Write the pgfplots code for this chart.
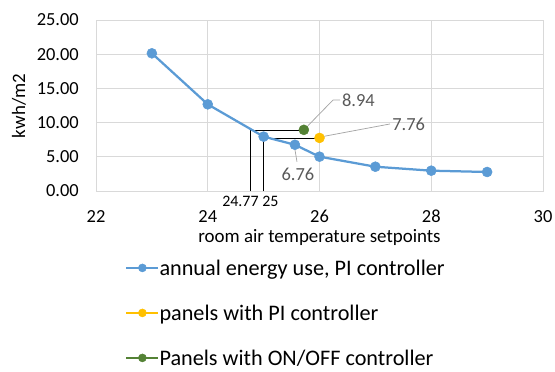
\documentclass[border=0pt]{standalone}
\usepackage{pgfplots}
\pgfplotsset{compat=1.18}
\usepackage{fontspec}
\setmainfont{Carlito}

\definecolor{seriesblue}{HTML}{5B9BD5}
\definecolor{seriesyellow}{HTML}{FFC000}
\definecolor{seriesgreen}{HTML}{548235}
\definecolor{gridgray}{HTML}{D9D9D9}
\definecolor{labelgray}{HTML}{595959}
\definecolor{leadergray}{HTML}{A6A6A6}

\begin{document}
\begin{tikzpicture}
\useasboundingbox (0bp,0bp) rectangle (555bp,372bp);
\begin{axis}[
  at={(96bp,181bp)}, anchor=south west,
  scale only axis, width=447bp, height=171bp,
  xmin=22, xmax=30, ymin=0, ymax=25,
  xtick={22,24,...,30}, ytick={0,5,...,25},
  major tick length=0pt,
  grid=major,
  major grid style={draw=gridgray, line width=0.75bp},
  axis line style={draw=gridgray, line width=0.75bp},
  clip=false,
  /pgf/number format/assume math mode=true,
  yticklabel={\pgfmathprintnumber[fixed,fixed zerofill,precision=2]{\tick}},
  xticklabel={\pgfmathprintnumber[fixed,precision=0]{\tick}},
  yticklabel style={font=\fontsize{18.5}{20}\selectfont, inner sep=0pt, anchor=east, xshift=-17bp},
  xticklabel style={font=\fontsize{18.5}{20}\selectfont, inner sep=0pt, anchor=north, yshift=-19bp},
  xlabel={room air temperature setpoints},
  ylabel={kwh/m2},
  label style={font=\fontsize{19}{21}\selectfont},
  xlabel style={at={(rel axis cs:0.5,0)}, anchor=center, yshift=-47bp, inner sep=0pt},
  ylabel style={at={(rel axis cs:-0.1723,0.497)}, anchor=center, inner sep=0pt},
  legend style={
    at={(rel axis cs:0.065,-0.396)}, anchor=north west,
    draw=none, fill=none, inner sep=0pt,
    font=\fontsize{22.3}{24}\selectfont,
    row sep=27bp,
    nodes={inner xsep=0bp, inner ysep=1.5bp, text height=15bp, text depth=0bp},
  },
  legend cell align=left,
  legend image code/.code={%
    \draw[mark repeat=2,mark phase=2,#1,mark size=4bp] plot coordinates {(0bp,0bp) (16bp,0bp) (32bp,0bp)};},
]

% guide lines from the axis to the two panel results
\addplot[black, line width=0.6bp, forget plot] coordinates {(24.77,0) (24.77,8.94) (25.72,8.94)};
\addplot[black, line width=0.6bp, forget plot] coordinates {(25,0) (25,7.76) (26,7.76)};

% annual energy use against setpoint
\addplot[seriesblue, line width=2.25bp, mark=*, mark size=5bp,
  mark options={solid, fill=seriesblue, draw=seriesblue, line width=0.5bp}]
  coordinates {(23,20.13) (24,12.67) (25,7.95) (25.56,6.76) (26,5.02) (27,3.55) (28,2.97) (29,2.78)};
\addlegendentry{annual energy use, PI controller}

\addplot[seriesyellow, line width=2.25bp, mark=*, mark size=5bp,
  mark options={solid, fill=seriesyellow, draw=seriesyellow, line width=0.5bp}]
  coordinates {(26,7.76)};
\addlegendentry{panels with PI controller}

\addplot[seriesgreen, line width=2.25bp, mark=*, mark size=5bp,
  mark options={solid, fill=seriesgreen, draw=seriesgreen, line width=0.5bp}]
  coordinates {(25.72,8.94)};
\addlegendentry{Panels with ON/OFF controller}

% data labels with leader lines
\draw[leadergray, line width=0.75bp] (axis cs:25.794,9.55) -- (axis cs:26.242,13.30) -- (axis cs:26.367,13.30);
\node[anchor=west, inner sep=0pt, text=labelgray, font=\fontsize{18.5}{20}\selectfont] at (axis cs:26.40,13.30) {8.94};
\draw[leadergray, line width=0.75bp] (axis cs:26.045,7.94) -- (axis cs:27.262,9.80);
\node[anchor=west, inner sep=0pt, text=labelgray, font=\fontsize{18.5}{20}\selectfont] at (axis cs:27.30,9.80) {7.76};
\draw[leadergray, line width=0.75bp] (axis cs:25.562,5.99) -- (axis cs:25.597,4.28);
\node[anchor=north, inner sep=0pt, text=labelgray, font=\fontsize{18.5}{20}\selectfont] at (axis cs:25.615,3.35) {6.76};

% setpoint values of the guide lines
\node[inner sep=0pt, font=\fontsize{16}{18}\selectfont] at (axis cs:24.585,-1.46) {24.77};
\node[inner sep=0pt, font=\fontsize{16}{18}\selectfont] at (axis cs:25.12,-1.46) {25};
\end{axis}
\end{tikzpicture}
\end{document}
